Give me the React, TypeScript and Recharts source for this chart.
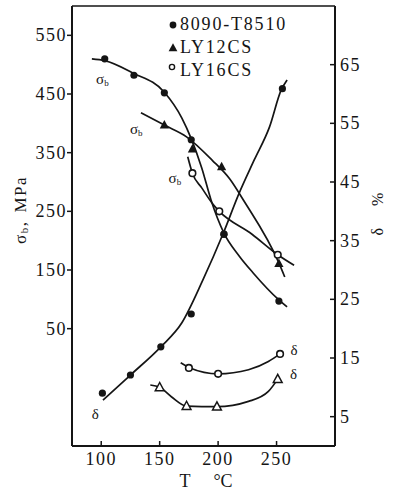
import { ComposedChart, Line, XAxis, YAxis, ReferenceDot, ReferenceLine } from 'recharts';

const FONT = '"Liberation Serif", "DejaVu Serif", serif';
const INK = '#151515';

// axis ticks
const tTicks = [100, 150, 200, 250];
const sigmaTicks = [50, 150, 250, 350, 450, 550];
const deltaTicks = [5, 15, 25, 35, 45, 55, 65];

// measured points, T in °C, v = σb (MPa) or δ (%)
const sb8090Pts = [
  { T: 103, v: 510 }, { T: 128, v: 482 }, { T: 154, v: 452 },
  { T: 177, v: 372 }, { T: 205, v: 211 }, { T: 252, v: 97 },
];
const sb12Pts = [
  { T: 154, v: 397 }, { T: 178, v: 356 }, { T: 203, v: 326 }, { T: 252, v: 161 },
];
const sb16Pts = [
  { T: 178, v: 315 }, { T: 201, v: 250 }, { T: 251, v: 176 },
];
const d8090Pts = [
  { T: 101, v: 9.0 }, { T: 125, v: 12.1 }, { T: 151, v: 16.9 },
  { T: 177, v: 22.5 }, { T: 205, v: 36.1 }, { T: 255, v: 60.9 },
];
const d16Pts = [
  { T: 175, v: 13.3 }, { T: 200, v: 12.3 }, { T: 253, v: 15.7 },
];
const d12Pts = [
  { T: 150, v: 10.0 }, { T: 173, v: 6.8 }, { T: 199, v: 6.7 }, { T: 251, v: 11.4 },
];

// hand-drawn fitted curves
const sb8090Curve = [
  { T: 92, v: 510 }, { T: 103, v: 507 }, { T: 127, v: 486 }, { T: 154, v: 453 },
  { T: 169, v: 409 }, { T: 177, v: 374 }, { T: 186, v: 324 }, { T: 194, v: 269 },
  { T: 205, v: 213 }, { T: 218, v: 174 }, { T: 230, v: 145 }, { T: 252, v: 99 },
  { T: 259, v: 87 },
];
const sb12Curve = [
  { T: 134, v: 418 }, { T: 154, v: 397 }, { T: 173, v: 377 }, { T: 195, v: 337 },
  { T: 210, v: 305 }, { T: 222, v: 268 }, { T: 252, v: 162 }, { T: 257, v: 138 },
];
const sb16Curve = [
  { T: 174, v: 343 }, { T: 178, v: 315 }, { T: 186, v: 290 }, { T: 196, v: 261 },
  { T: 201, v: 250 }, { T: 229, v: 211 }, { T: 251, v: 176 }, { T: 265, v: 158 },
];
const d8090Curve = [
  { T: 101.5, v: 7.8 }, { T: 125, v: 12.1 }, { T: 151, v: 16.9 }, { T: 169, v: 21.0 },
  { T: 187, v: 28.3 }, { T: 204.5, v: 36.3 }, { T: 218, v: 43.1 }, { T: 231, v: 48.8 },
  { T: 244, v: 54.4 }, { T: 254, v: 60.7 }, { T: 259, v: 62.4 },
];
const d16Curve = [
  { T: 168, v: 14.2 }, { T: 176, v: 13.3 }, { T: 200, v: 12.3 }, { T: 226, v: 13.0 },
  { T: 243, v: 14.4 }, { T: 253, v: 15.7 },
];
const d12Curve = [
  { T: 142, v: 10.4 }, { T: 150, v: 10.0 }, { T: 160, v: 8.4 }, { T: 173, v: 6.8 },
  { T: 199, v: 6.7 }, { T: 226, v: 7.6 }, { T: 243, v: 9.3 }, { T: 251, v: 11.4 },
];

const legendItems = ['8090-T8510', 'LY12CS', 'LY16CS'];

const tri = (cx: number, cy: number, s: number) =>
  `${cx},${cy - s * 1.1} ${cx - s},${cy + s * 0.75} ${cx + s},${cy + s * 0.75}`;

const filledCircle = (p: any) => <circle key={p.index} cx={p.cx} cy={p.cy} r={3.6} fill={INK} />;
const openCircle = (p: any) => (
  <circle key={p.index} cx={p.cx} cy={p.cy} r={3.3} fill="#fff" stroke={INK} strokeWidth={1.6} />
);
const filledTri = (p: any) => <polygon key={p.index} points={tri(p.cx, p.cy, 4.6)} fill={INK} />;
const openTri = (p: any) => (
  <polygon key={p.index} points={tri(p.cx, p.cy, 4.4)} fill="#fff" stroke={INK} strokeWidth={1.5} />
);

const tickText = { fontFamily: FONT, fontSize: 18, letterSpacing: 1.5, fill: INK };

const BottomTick = (p: any) => (
  <g>
    <line x1={p.x} x2={p.x} y1={p.y} y2={p.y - 5} stroke={INK} strokeWidth={1.5} />
    <text x={p.x} y={p.y + 19} textAnchor="middle" {...tickText}>{p.payload.value}</text>
  </g>
);
const LeftTick = (p: any) => (
  <g>
    <line x1={p.x - 5} x2={p.x} y1={p.y} y2={p.y} stroke={INK} strokeWidth={1.5} />
    <text x={p.x - 5} y={p.y + 6} textAnchor="end" {...tickText}>{p.payload.value}</text>
  </g>
);
const RightTick = (p: any) => (
  <g>
    <line x1={p.x - 5} x2={p.x} y1={p.y} y2={p.y} stroke={INK} strokeWidth={1.5} />
    <text x={p.x + 5} y={p.y + 6} textAnchor="start" {...tickText}>{p.payload.value}</text>
  </g>
);

// small "σb" / "δ" tags next to the curves
const tag = (main: string, sub?: string) => (props: any) => {
  const vb = props.viewBox || {};
  return (
    <text x={vb.x} y={vb.y} textAnchor="middle" dominantBaseline="central"
      fontFamily={FONT} fontSize={15} style={{ fill: INK }}>
      {main}
      {sub && <tspan fontSize={9} dy={4}>{sub}</tspan>}
    </text>
  );
};

export default function App() {
  return (
    <div style={{ position: 'absolute', left: 0, top: 0, width: 395, height: 494, background: '#fff' }}>
      <ComposedChart width={395} height={494} margin={{ top: 6, right: 0, bottom: 0, left: 0 }}>
        <XAxis
          dataKey="T" type="number" domain={[75, 300]} ticks={tTicks} allowDataOverflow
          height={48} tickSize={0} tickMargin={0} tickLine={false} tick={BottomTick}
          axisLine={{ stroke: INK, strokeWidth: 2 }}
          label={(p: any) => {
            const vb = p.viewBox;
            return (
              <g fontFamily={FONT} fontSize={18} fill={INK}>
                <text x={vb.x + 113} y={vb.y + 41} textAnchor="middle">T</text>
                <text x={vb.x + 151} y={vb.y + 41} textAnchor="middle">°C</text>
              </g>
            );
          }}
        />
        <YAxis
          yAxisId="left" type="number" domain={[-150, 600]} ticks={sigmaTicks} allowDataOverflow
          width={72} tickSize={0} tickMargin={0} tickLine={false} tick={LeftTick}
          axisLine={{ stroke: INK, strokeWidth: 2 }}
          label={() => (
            <text x={20} y={210} transform="rotate(-90, 20, 210)" textAnchor="middle"
              dominantBaseline="central" fontFamily={FONT} fontSize={17} letterSpacing={1.5} fill={INK}>
              σ<tspan fontSize={11} dy={4}>b</tspan><tspan dy={-4}>,</tspan><tspan dx={8}>MPa</tspan>
            </text>
          )}
        />
        <YAxis
          yAxisId="right" orientation="right" type="number" domain={[0, 75]} ticks={deltaTicks}
          allowDataOverflow width={60} tickSize={0} tickMargin={0} tickLine={false} tick={RightTick}
          axisLine={{ stroke: INK, strokeWidth: 2 }}
          label={() => (
            <text x={377} y={214} transform="rotate(-90, 377, 214)" textAnchor="middle"
              dominantBaseline="central" fontFamily={FONT} fontSize={16} fill={INK}>
              δ<tspan dx={22}>%</tspan>
            </text>
          )}
        />
        <ReferenceLine yAxisId="left" y={600} stroke={INK} strokeWidth={1.5} />

        {/* fitted curves */}
        <Line data={sb8090Curve} dataKey="v" yAxisId="left" type="monotone" stroke={INK} strokeWidth={1.7} dot={false} activeDot={false} isAnimationActive={false} />
        <Line data={sb12Curve} dataKey="v" yAxisId="left" type="monotone" stroke={INK} strokeWidth={1.7} dot={false} activeDot={false} isAnimationActive={false} />
        <Line data={sb16Curve} dataKey="v" yAxisId="left" type="monotone" stroke={INK} strokeWidth={1.7} dot={false} activeDot={false} isAnimationActive={false} />
        <Line data={d8090Curve} dataKey="v" yAxisId="right" type="monotone" stroke={INK} strokeWidth={1.7} dot={false} activeDot={false} isAnimationActive={false} />
        <Line data={d16Curve} dataKey="v" yAxisId="right" type="monotone" stroke={INK} strokeWidth={1.7} dot={false} activeDot={false} isAnimationActive={false} />
        <Line data={d12Curve} dataKey="v" yAxisId="right" type="monotone" stroke={INK} strokeWidth={1.7} dot={false} activeDot={false} isAnimationActive={false} />

        {/* measured points */}
        <Line data={sb8090Pts} dataKey="v" yAxisId="left" stroke="none" dot={filledCircle} activeDot={false} isAnimationActive={false} />
        <Line data={sb12Pts} dataKey="v" yAxisId="left" stroke="none" dot={filledTri} activeDot={false} isAnimationActive={false} />
        <Line data={sb16Pts} dataKey="v" yAxisId="left" stroke="none" dot={openCircle} activeDot={false} isAnimationActive={false} />
        <Line data={d8090Pts} dataKey="v" yAxisId="right" stroke="none" dot={filledCircle} activeDot={false} isAnimationActive={false} />
        <Line data={d16Pts} dataKey="v" yAxisId="right" stroke="none" dot={openCircle} activeDot={false} isAnimationActive={false} />
        <Line data={d12Pts} dataKey="v" yAxisId="right" stroke="none" dot={openTri} activeDot={false} isAnimationActive={false} />

        {/* curve tags */}
        <ReferenceDot yAxisId="left" x={101} y={476} r={0} stroke="none" fill="none" label={tag('σ', 'b')} />
        <ReferenceDot yAxisId="left" x={130} y={390} r={0} stroke="none" fill="none" label={tag('σ', 'b')} />
        <ReferenceDot yAxisId="left" x={163} y={307} r={0} stroke="none" fill="none" label={tag('σ', 'b')} />
        <ReferenceDot yAxisId="right" x={95} y={5.5} r={0} stroke="none" fill="none" label={tag('δ')} />
        <ReferenceDot yAxisId="right" x={265} y={16.3} r={0} stroke="none" fill="none" label={tag('δ')} />
        <ReferenceDot yAxisId="right" x={264.5} y={12.3} r={0} stroke="none" fill="none" label={tag('δ')} />
      </ComposedChart>

      {/* legend */}
      <svg width={395} height={494} style={{ position: 'absolute', left: 0, top: 0, pointerEvents: 'none' }}>
        <g fontFamily={FONT} fontSize={18} letterSpacing={1.8} fill={INK}>
          <circle cx={173} cy={25} r={3.4} fill={INK} />
          <text x={180} y={30}>{legendItems[0]}</text>
          <polygon points={tri(173, 48, 4.4)} fill={INK} />
          <text x={180} y={53}>{legendItems[1]}</text>
          <circle cx={172} cy={67} r={2.6} fill="#fff" stroke={INK} strokeWidth={1.4} />
          <text x={180} y={76}>{legendItems[2]}</text>
        </g>
      </svg>
    </div>
  );
}
